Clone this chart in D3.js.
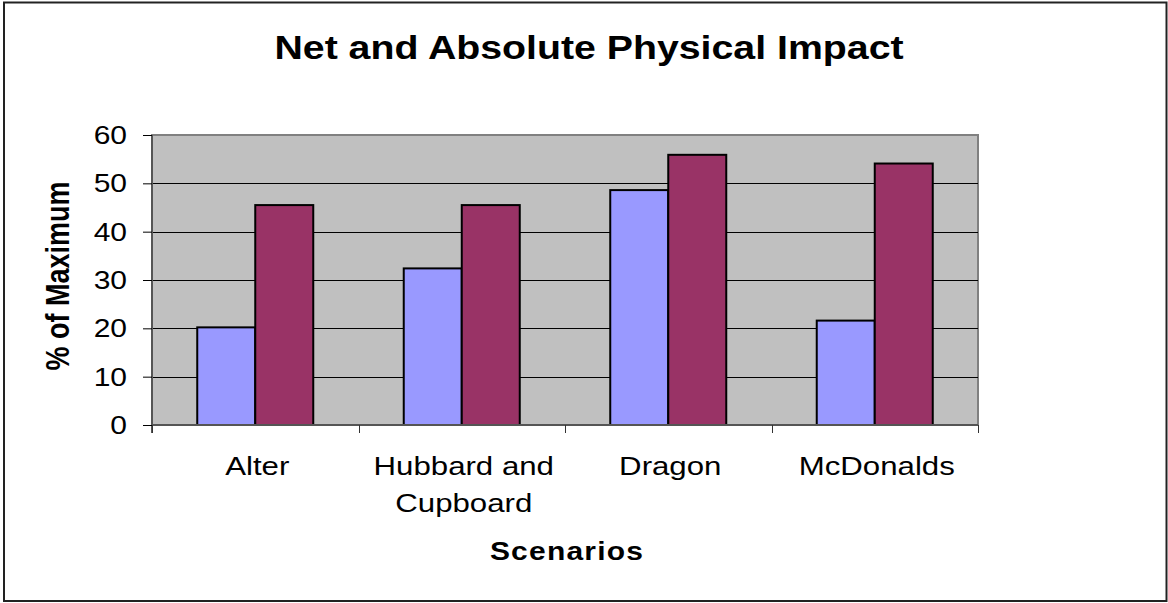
<!DOCTYPE html>
<html>
<head>
<meta charset="utf-8">
<script src="https://cdn.jsdelivr.net/npm/d3@7"></script>
<style>
  html, body { margin: 0; padding: 0; background: #fff; }
  svg { display: block; font-family: Arial, "Liberation Sans", sans-serif; }
</style>
</head>
<body>
<svg id="chart" width="1168" height="603"></svg>
<script>
// ---- data ----
const categories = [["Alter"], ["Hubbard and", "Cupboard"], ["Dragon"], ["McDonalds"]];
const seriesNames = ["Net", "Absolute"];
const netValues = [20.2, 32.4, 48.6, 21.6];
const absoluteValues = [45.5, 45.5, 55.9, 54.1];
const yTicks = [0, 10, 20, 30, 40, 50, 60];
const titleText = "Net and Absolute Physical Impact";
const xTitle = "Scenarios";
const yTitle = "% of Maximum";
const colors = ["#9999FF", "#993366"];

// ---- layout ----
const svg = d3.select("#chart");
const plot = { left: 152, right: 978, top: 135, bottom: 425 };
const SX = 1.2; // horizontal stretch of text seen in reference

const catKeys = categories.map(c => c.join(" "));
const x0 = d3.scaleBand().domain(catKeys).range([plot.left, plot.right]).paddingInner(0).paddingOuter(0);
const x1 = d3.scaleBand().domain(seriesNames).range([0, x0.bandwidth()]).paddingInner(0).paddingOuter(0.78);
const y = d3.scaleLinear().domain([0, 60]).range([plot.bottom, plot.top]);

// outer border
svg.append("rect").attr("x", 4).attr("y", 2.5).attr("width", 1162.5).attr("height", 598.5)
  .attr("fill", "#fff").attr("stroke", "#222").attr("stroke-width", 2);

// plot area
svg.append("rect").attr("x", plot.left).attr("y", plot.top)
  .attr("width", plot.right - plot.left).attr("height", plot.bottom - plot.top)
  .attr("fill", "#C0C0C0").attr("stroke", "#808080").attr("stroke-width", 2);

// gridlines
svg.append("g").selectAll("line").data(yTicks.filter(t => t > 0 && t < 60)).join("line")
  .attr("x1", plot.left).attr("x2", plot.right)
  .attr("y1", d => Math.round(y(d)) + 0.5).attr("y2", d => Math.round(y(d)) + 0.5)
  .attr("stroke", "#000").attr("stroke-width", 1);

// bars
const rows = catKeys.map((k, i) => ({ key: k, vals: [netValues[i], absoluteValues[i]] }));
svg.append("g").selectAll("g").data(rows).join("g")
  .attr("transform", d => `translate(${x0(d.key)},0)`)
  .selectAll("rect").data(d => d.vals.map((v, j) => ({ s: seriesNames[j], v, j }))).join("rect")
  .attr("x", d => x1(d.s)).attr("width", x1.bandwidth())
  .attr("y", d => y(d.v)).attr("height", d => y(0) - y(d.v))
  .attr("fill", d => colors[d.j]).attr("stroke", "#000").attr("stroke-width", 2);

// y axis
const yAxis = d3.axisLeft(y).tickValues(yTicks).tickSize(9).tickPadding(0).tickFormat(d3.format("d"));
const gy = svg.append("g").attr("transform", `translate(${plot.left},0)`).call(yAxis);
gy.select(".domain").attr("stroke", "#555").attr("stroke-width", 2).attr("d", `M0,${plot.top}V${plot.bottom + 8}`);
gy.selectAll(".tick line").attr("stroke", "#000");
gy.selectAll(".tick text").remove();
gy.selectAll(".tick").append("text")
  .attr("transform", `translate(-25,8.5) scale(${SX},1)`)
  .attr("text-anchor", "end").attr("fill", "#000")
  .style("font-size", "25px").style("font-family", "Arial, 'Liberation Sans', sans-serif")
  .text(d => d);

// x axis
const xAxis = d3.axisBottom(x0).tickValues([]).tickSize(0);
const gx = svg.append("g").attr("transform", `translate(0,${plot.bottom})`).call(xAxis);
gx.select(".domain").attr("stroke", "#555").attr("stroke-width", 2).attr("d", `M${plot.left},0H${plot.right}`);
// category boundary ticks
const bounds = catKeys.map(k => x0(k)).concat([plot.right]);
gx.selectAll("line.b").data(bounds).join("line").attr("class", "b")
  .attr("x1", d => Math.round(d) + 0.5).attr("x2", d => Math.round(d) + 0.5)
  .attr("y1", 0).attr("y2", 8).attr("stroke", "#333").attr("stroke-width", 1);
// category labels
const labG = svg.append("g");
categories.forEach((lines, i) => {
  const cx = x0(catKeys[i]) + x0.bandwidth() / 2 + 2;
  lines.forEach((ln, j) => {
    labG.append("text")
      .attr("transform", `translate(${cx},${475 + j * 36.7}) scale(${SX},1)`)
      .attr("text-anchor", "middle").attr("fill", "#000")
      .style("font-size", "26px").text(ln);
  });
});

// title
svg.append("text")
  .attr("transform", `translate(589,59) scale(1.19,1)`)
  .attr("text-anchor", "middle").attr("fill", "#000")
  .style("font-size", "33px").style("font-weight", "bold").text(titleText);

// x title
svg.append("text")
  .attr("transform", `translate(567,560) scale(${SX},1)`)
  .attr("text-anchor", "middle").attr("fill", "#000")
  .style("font-size", "25px").style("font-weight", "bold").style("letter-spacing", "1px")
  .text(xTitle);

// y title
svg.append("text")
  .attr("transform", `translate(69,276) scale(${SX},1) rotate(-90)`)
  .attr("text-anchor", "middle").attr("fill", "#000")
  .style("font-size", "27px").style("font-weight", "bold").text(yTitle);
</script>
</body>
</html>
